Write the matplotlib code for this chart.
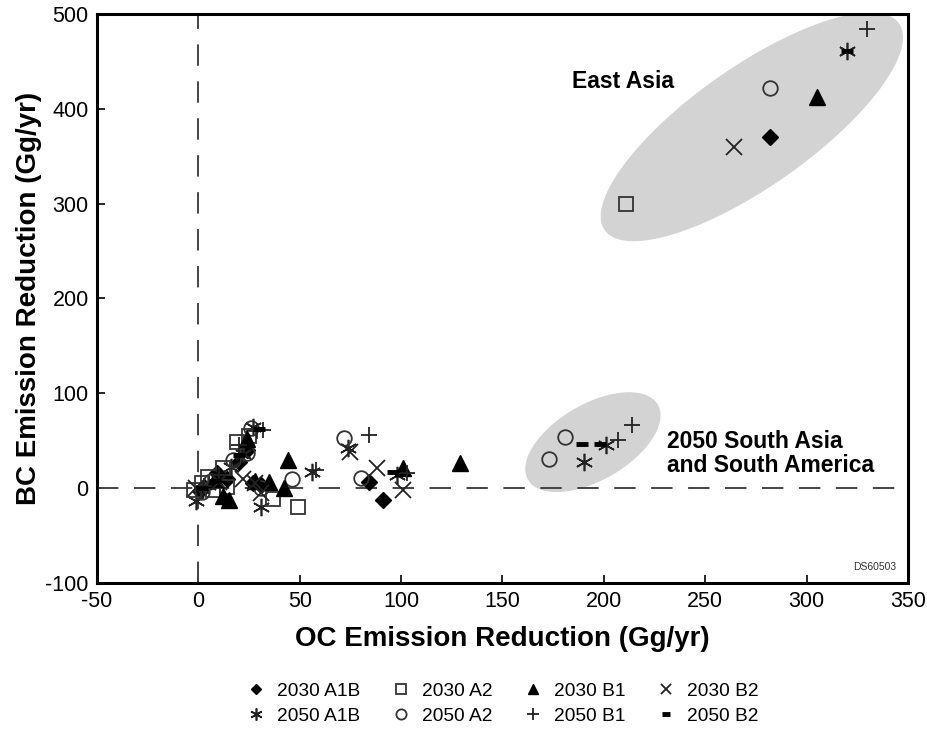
import numpy as np
import matplotlib
matplotlib.use("Agg")
import matplotlib.pyplot as plt
from matplotlib.patches import Polygon
from matplotlib.lines import Line2D

plt.rcParams['font.family'] = ['Liberation Sans', 'DejaVu Sans']
plt.rcParams['axes.unicode_minus'] = False

# OC (x) and BC (y) emission reductions, Gg/yr, by year and scenario
a1b_2030_oc = [282, 84, 91, 24, 9, 31, 27, 3, 14, 20, 1]
a1b_2030_bc = [370, 7, -13, 40, 16, 3, 5, 1, 10, 28, -3]

a2_2030_oc = [211, 49, 19, 12, -2, 7, 14, 37, 2, 25, 5]
a2_2030_bc = [300, -20, 49, 21, -2, -2, 1, -11, 5, 55, 12]

b1_2030_oc = [305, 129, 101, 44, 42, 35, 15, 12, 24, 8, 28]
b1_2030_bc = [412, 27, 21, 30, 0, 7, -12, -8, 52, 10, 8]

b2_2030_oc = [264, 75, 88, 101, 22, 28, -1, 10, 31]
b2_2030_bc = [360, 38, 21, -2, 10, 5, 0, 6, -5]

a1b_2050_oc = [320, 201, 190, 56, 98, 74, 27, 31, -1, 16, 22, 5]
a1b_2050_bc = [461, 45, 28, 17, 14, 42, 64, -20, -14, 22, 36, 3]

a2_2050_oc = [282, 181, 173, 72, 80, 46, 26, 24, 17, 2, 31, 6]
a2_2050_bc = [422, 54, 31, 53, 11, 10, 63, 37, 30, -4, 0, 8]

b1_2050_oc = [330, 207, 214, 84, 58, 103, 32, 29, 20, 10, 3]
b1_2050_bc = [484, 51, 67, 56, 19, 16, 61, 60, 45, 14, 2]

b2_2050_oc = [320, 189, 198, 96, 30, 20, 8, 2]
b2_2050_bc = [461, 47, 47, 17, 62, 35, 8, 0]

series = [
    ("2030 A1B", a1b_2030_oc, a1b_2030_bc, dict(marker='D', ms=8, mfc='black', mec='black')),
    ("2050 A1B", a1b_2050_oc, a1b_2050_bc, dict(marker=(6, 2, 0), ms=12.5, mfc='none', mec='#222222', mew=1.2)),
    ("2030 A2", a2_2030_oc, a2_2030_bc, dict(marker='s', ms=10.5, mfc='none', mec='#333333', mew=1.3)),
    ("2050 A2", a2_2050_oc, a2_2050_bc, dict(marker='o', ms=10.5, mfc='none', mec='#333333', mew=1.3)),
    ("2030 B1", b1_2030_oc, b1_2030_bc, dict(marker='^', ms=11, mfc='black', mec='black')),
    ("2050 B1", b1_2050_oc, b1_2050_bc, dict(marker='+', ms=12, mfc='none', mec='#222222', mew=1.3)),
    ("2030 B2", b2_2030_oc, b2_2030_bc, dict(marker='x', ms=11, mfc='none', mec='#222222', mew=1.3)),
    ("2050 B2", b2_2050_oc, b2_2050_bc, dict(marker='_', ms=8, mfc='none', mec='black', mew=3.5)),
]

fig = plt.figure(figsize=(9.27, 7.30), dpi=100)
ax = fig.add_axes([0.1046, 0.2014, 0.8749, 0.7794])

ax.set_xlim(-50, 350)
ax.set_ylim(-100, 500)


def shaded_ellipse(center, major, minor):
    t = np.linspace(0, 2 * np.pi, 200)
    cx, cy = center
    xs = cx + np.cos(t) * major[0] + np.sin(t) * minor[0]
    ys = cy + np.cos(t) * major[1] + np.sin(t) * minor[1]
    ax.add_patch(Polygon(np.column_stack([xs, ys]), closed=True,
                         facecolor='#d3d3d3', edgecolor='none', zorder=1))


# Regional groupings (data units: centre, semi-major vector, semi-minor vector)
shaded_ellipse((273, 381), (72.6, 108.9), (16.9, -51.8))
shaded_ellipse((194.6, 48.5), (32.0, 39.6), (9.4, -34.7))

# Zero reference lines
ax.axhline(0, color='#444444', lw=1.4, dashes=(11, 8), zorder=2)
ax.axvline(0, color='#444444', lw=1.4, dashes=(11, 8), zorder=2)

handles = []
for label, xs, ys, style in series:
    ax.plot(xs, ys, ls='none', zorder=3, **style)
    lst = dict(style)
    lst['ms'] = style['ms'] * 0.7
    handles.append(Line2D([], [], ls='none', label=label, **lst))

ax.text(184.5, 428.5, 'East Asia', fontsize=16.5, fontweight='bold', ha='left', va='center')
ax.text(231, 36.5, '2050 South Asia\nand South America', fontsize=16.5, fontweight='bold',
        ha='left', va='center', linespacing=1.05)
ax.text(0.985, 0.02, 'DS60503', transform=ax.transAxes, fontsize=7.5, color='#333333',
        ha='right', va='bottom')

ax.set_xticks(np.arange(-50, 351, 50))
ax.set_yticks(np.arange(-100, 501, 100))
ax.tick_params(direction='in', length=6, width=1.2, labelsize=15.5, pad=6,
               top=False, right=False, colors='black')
for s in ax.spines.values():
    s.set_linewidth(2.2)

ax.set_xlabel('OC Emission Reduction (Gg/yr)', fontsize=20, fontweight='bold', labelpad=10)
ax.set_ylabel('BC Emission Reduction (Gg/yr)', fontsize=20, fontweight='bold', labelpad=2)

fig.legend(handles=handles, loc='center', bbox_to_anchor=(0.542, 0.036), ncol=4,
           frameon=False, fontsize=13.8, handlelength=1.0, handletextpad=0.6,
           columnspacing=1.6, labelspacing=0.4)

fig.savefig('out.png', dpi=100)
